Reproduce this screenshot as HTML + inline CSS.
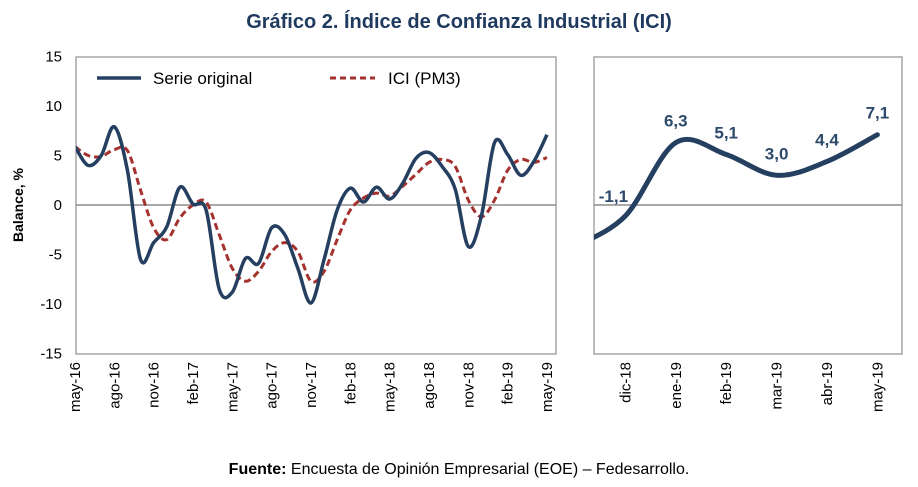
<!DOCTYPE html>
<html><head><meta charset="utf-8"><style>
body{margin:0;background:#fff;}
svg{display:block;font-family:"Liberation Sans",Arial,sans-serif;}
</style></head><body>
<svg id="c" width="918" height="487" xmlns="http://www.w3.org/2000/svg">
<defs>
<clipPath id="cl"><rect x="76" y="57" width="480" height="297"/></clipPath>
<clipPath id="cr"><rect x="594" y="57" width="308" height="297"/></clipPath>
</defs>
<text x="459" y="28" text-anchor="middle" font-size="20" font-weight="bold" fill="#1f3a5f">Gráfico 2. Índice de Confianza Industrial (ICI)</text>
<rect x="76" y="57" width="480" height="297" fill="none" stroke="#a6a6a6" stroke-width="1.5"/>
<rect x="594" y="57" width="308" height="297" fill="none" stroke="#a6a6a6" stroke-width="1.5"/>
<text transform="translate(23,205) rotate(-90)" text-anchor="middle" font-size="14" font-weight="bold" fill="#000">Balance, %</text>
<g id="yt"></g><g id="xl"></g><g id="xr"></g>
<g id="gl" clip-path="url(#cl)"></g>
<g id="gr" clip-path="url(#cr)"></g>
<g id="lab"></g>
<g>
<line x1="97" y1="78" x2="141" y2="78" stroke="#243f60" stroke-width="3.5"/>
<text x="153" y="84" font-size="17" fill="#000">Serie original</text>
<line x1="330" y1="78" x2="375" y2="78" stroke="#a5322e" stroke-width="3" stroke-dasharray="6,4"/>
<text x="388" y="84" font-size="17" fill="#000">ICI (PM3)</text>
</g>
<text x="459" y="474" text-anchor="middle" font-size="16" fill="#000"><tspan font-weight="bold">Fuente:</tspan> Encuesta de Opinión Empresarial (EOE) – Fedesarrollo.</text>
</svg>
<script>
const months=["may","jun","jul","ago","sep","oct","nov","dic","ene","feb","mar","abr"];
const serieOriginal=[5.9,4.0,5.0,7.9,3.5,-5.5,-3.8,-2.2,1.8,0.1,-0.5,-8.5,-8.8,-5.4,-5.9,-2.3,-3.0,-6.4,-9.9,-5.5,-0.5,1.7,0.3,1.8,0.6,2.2,4.7,5.3,3.9,1.6,-4.2,-1.1,6.3,5.1,3.0,4.4,7.1];
const iciPM3=[5.9,5.0,4.9,5.6,5.5,1.5,-2.3,-3.5,-1.3,0,0.3,-3,-6.4,-7.7,-6.7,-4.7,-3.8,-4.7,-7.7,-6.7,-3.5,-0.5,0.7,1.2,0.9,1.9,3.1,4.3,4.6,3.9,0.5,-1.2,0.5,3.5,4.6,4.3,4.8];
const yTicks=[15,10,5,0,-5,-10,-15];
const rightCats=["nov-18","dic-18","ene-19","feb-19","mar-19","abr-19","may-19"];
const rightVals=[-4.2,-1.1,6.3,5.1,3.0,4.4,7.1];
const rightLabels=["","-1,1","6,3","5,1","3,0","4,4","7,1"];
const NS="http://www.w3.org/2000/svg";
const y=v=>205-v*9.9;
const xl=i=>75+i*13.11;
const xr=i=>575+i*50.4;
function mk(t,a,p){const e=document.createElementNS(NS,t);for(const k in a)e.setAttribute(k,a[k]);document.getElementById(p).appendChild(e);return e;}
function smooth(pts){let d="M"+pts[0][0]+","+pts[0][1];for(let i=0;i<pts.length-1;i++){const p0=pts[Math.max(i-1,0)],p1=pts[i],p2=pts[i+1],p3=pts[Math.min(i+2,pts.length-1)];const t=6;d+=" C"+(p1[0]+(p2[0]-p0[0])/t)+","+(p1[1]+(p2[1]-p0[1])/t)+" "+(p2[0]-(p3[0]-p1[0])/t)+","+(p2[1]-(p3[1]-p1[1])/t)+" "+p2[0]+","+p2[1];}return d;}
yTicks.forEach(v=>{const t=mk("text",{x:62,y:y(v)+5,"text-anchor":"end","font-size":"15",fill:"#000"},"yt");t.textContent=v;

});
let z=mk("line",{x1:76,x2:556,y1:y(0),y2:y(0),stroke:"#8c8c8c","stroke-width":1.5},"gl");


z=mk("line",{x1:594,x2:902,y1:y(0),y2:y(0),stroke:"#8c8c8c","stroke-width":1.5},"gr");


for(let i=0;i<serieOriginal.length;i+=3){const yr=16+Math.floor((i+4)/12);const lab=months[i%12]+"-"+yr;const t=mk("text",{transform:"translate("+(xl(i)+5)+",362) rotate(-90)","text-anchor":"end","font-size":"15",fill:"#000"},"xl");t.textContent=lab;

}
let p=mk("path",{d:smooth(iciPM3.map((v,i)=>[xl(i),y(v)])),fill:"none",stroke:"#a5322e","stroke-width":3,"stroke-dasharray":"7,4"},"gl");


p=mk("path",{d:smooth(serieOriginal.map((v,i)=>[xl(i),y(v)])),fill:"none",stroke:"#243f60","stroke-width":3.5},"gl");


p=mk("path",{d:smooth(rightVals.map((v,i)=>[xr(i),y(v)])),fill:"none",stroke:"#243f60","stroke-width":5,"stroke-linecap":"round"},"gr");


rightCats.forEach((c,i)=>{if(i===0)return;const t=mk("text",{transform:"translate("+(xr(i)+5)+",362) rotate(-90)","text-anchor":"end","font-size":"15",fill:"#000"},"xr");t.textContent=c;


const l=mk("text",{x:xr(i)-(i===1?12:0),y:(i===1?y(rightVals[i])-14:y(rightVals[i])-16),"text-anchor":"middle","font-size":"17","font-weight":"bold",fill:"#2e4a6b"},"lab");l.textContent=rightLabels[i];

});
</script>
</body></html>
